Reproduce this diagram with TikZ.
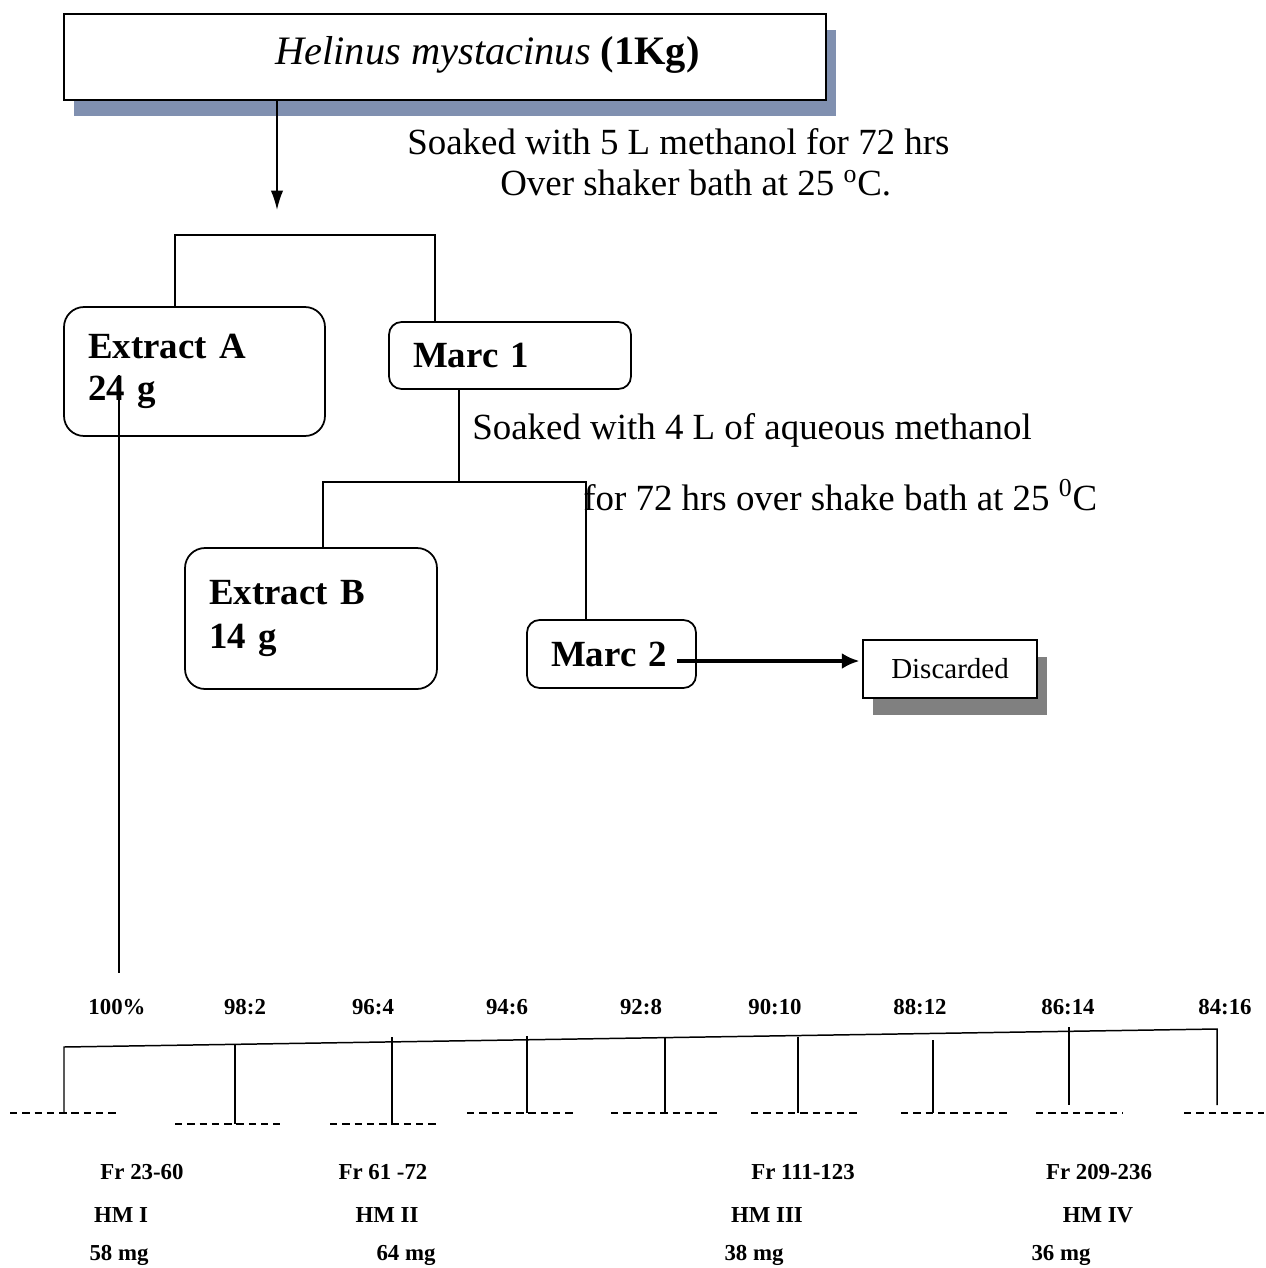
\documentclass[tikz,border=0pt]{standalone}
\usepackage{fontspec}
\setmainfont{Liberation Serif}
\usepackage{tikz}
\usetikzlibrary{arrows.meta,shadows}
\definecolor{slate}{RGB}{128,144,176}
\definecolor{shadegray}{RGB}{128,128,128}
\tikzstyle{topbox}=[rectangle, draw, fill=white, line width=1pt,% box with a blue-grey shadow
minimum width=15.24cm, minimum height=1.72cm,
drop shadow={fill=slate, opacity=1, shadow xshift=0.2cm, shadow yshift=-0.32cm}]
\tikzstyle{titletext}=[inner sep=0pt, font=\fontsize{23}{26}\selectfont]
\tikzstyle{rbox}=[rectangle, draw, rounded corners=0.4cm, line width=1pt, inner xsep=0.48cm,
align=left, font=\fontsize{21}{23.5}\selectfont\bfseries]
\tikzstyle{sbox}=[rbox, rounded corners=0.25cm]
\tikzstyle{discbox}=[rectangle, draw, fill=white, line width=1pt, minimum width=3.48cm, minimum height=1.16cm,
font=\fontsize{16.5}{19}\selectfont,
drop shadow={fill=shadegray, opacity=1, shadow xshift=0.2cm, shadow yshift=-0.34cm}]
\tikzstyle{soak}=[inner sep=0pt, font=\fontsize{21}{23.2}\selectfont]
\tikzstyle{small}=[inner sep=0pt, font=\fontsize{13}{15}\selectfont\bfseries]
\tikzstyle{tline}=[line width=0.85pt]
\tikzstyle{fatarrow}=[line width=2.4pt, -{Latex[length=10pt,width=9pt]}, shorten >=1.5pt]
\tikzstyle{dashline}=[line width=0.85pt, dash pattern=on 4.2pt off 2.8pt]

\begin{document}
\begin{tikzpicture}[x=0.02cm,y=-0.02cm]
\useasboundingbox (0,0) rectangle (1266,1268);
% plant material and first soaking
\node[topbox, label={[titletext,xshift=0.85cm,yshift=0.05cm]center:{\textit{Helinus mystacinus} \textbf{(1Kg)}}}] (title) at (445,57) {};
\node[soak, anchor=west] (soak1a) at (407,142) {Soaked with 5 L methanol for 72 hrs};
\node[soak, anchor=west] (soak1b) at (500,183) {Over shaker bath at 25 \textsuperscript{o}C.};
\coordinate (down1) at (277,210);
\draw [tline, -{Latex[length=11pt,width=7pt]}] (title.south -| down1) -- (down1);

\node[rbox, text width=4.26cm, minimum width=5.22cm, minimum height=2.58cm] (exA) at (194.5,371.5) {Extract A\\24 g};
\node[sbox, text width=3.88cm, minimum width=4.84cm, minimum height=1.34cm] (mc1) at (510,355.5) {Marc 1};
\coordinate (j1l) at (175,235);
\coordinate (j1r) at (435,235);
\draw [tline] (exA.north -| j1l) -- (j1l) -- (j1r) -- (mc1.north -| j1r);

% second soaking
\node[soak, anchor=west] (soak2a) at (472,430) {Soaked with 4 L of aqueous methanol};
\node[soak, anchor=west] (soak2b) at (583,495) {for 72 hrs over shake bath at 25 \textsuperscript{0}C};
\node[rbox, text width=4.08cm, minimum width=5.04cm, minimum height=2.82cm, font=\fontsize{21}{25}\selectfont\bfseries] (exB) at (311,618.5) {Extract B\\14 g};
\node[sbox, text width=2.42cm, minimum width=3.38cm, minimum height=1.36cm] (mc2) at (611.5,654) {Marc 2};
\coordinate (j2) at (459,482);
\coordinate (j2l) at (323,482);
\coordinate (j2r) at (586,482);
\draw [tline] (mc1.south -| j2) -- (j2);
\draw [tline] (exB.north -| j2l) -- (j2l) -- (j2r) -- (mc2.north -| j2r);

\node[discbox] (disc) at (950,669) {Discarded};
\coordinate (m2out) at (677,661);
\draw [fatarrow] (m2out) -- (disc.west |- m2out);

% column of extract A
\coordinate (colA) at (119,375);
\coordinate (colB) at (119,973);
\draw [tline] (colA) -- (colB);

\node[small] (s0) at (117,1007) {100\%};
\node[small] (s1) at (245,1007) {98:2};
\node[small] (s2) at (373,1007) {96:4};
\node[small] (s3) at (507,1007) {94:6};
\node[small] (s4) at (641,1007) {92:8};
\node[small] (s5) at (775,1007) {90:10};
\node[small] (s6) at (920,1007) {88:12};
\node[small] (s7) at (1068,1007) {86:14};
\node[small] (s8) at (1225,1007) {84:16};

\coordinate (g0) at (64,1047);
\coordinate (g8) at (1217,1029);
\coordinate (f0) at (64,1112);
\coordinate (f8) at (1217,1105);
\draw [tline] (f0) -- (g0) -- (g8) -- (f8);
\draw [tline] (235,1045) -- (235,1124);
\draw [tline] (392,1037) -- (392,1124);
\draw [tline] (527,1036) -- (527,1113);
\draw [tline] (665,1037) -- (665,1113);
\draw [tline] (798,1037) -- (798,1113);
\draw [tline] (933,1040) -- (933,1113);
\draw [tline] (1069,1027) -- (1069,1105);

\draw [dashline] (10,1113) -- (120,1113);
\draw [dashline] (175,1124) -- (280,1124);
\draw [dashline] (330,1124) -- (437,1124);
\draw [dashline] (467,1113) -- (573,1113);
\draw [dashline] (611,1113) -- (718,1113);
\draw [dashline] (751,1113) -- (857,1113);
\draw [dashline] (901,1113) -- (1008,1113);
\draw [dashline] (1036,1113) -- (1123,1113);
\draw [dashline] (1184,1113) -- (1264,1113);

% isolated fractions
\node[small] (fr1) at (142,1172) {Fr 23-60};
\node[small] (fr2) at (383,1172) {Fr 61 -72};
\node[small] (fr3) at (803,1172) {Fr 111-123};
\node[small] (fr4) at (1099,1172) {Fr 209-236};
\node[small] (hm1) at (121,1215) {HM I};
\node[small] (hm2) at (387,1215) {HM II};
\node[small] (hm3) at (767,1215) {HM III};
\node[small] (hm4) at (1098,1215) {HM IV};
\node[small] (mg1) at (119,1255) {58 mg};
\node[small] (mg2) at (406,1255) {64 mg};
\node[small] (mg3) at (754,1255) {38 mg};
\node[small] (mg4) at (1061,1255) {36 mg};
\end{tikzpicture}
\end{document}
